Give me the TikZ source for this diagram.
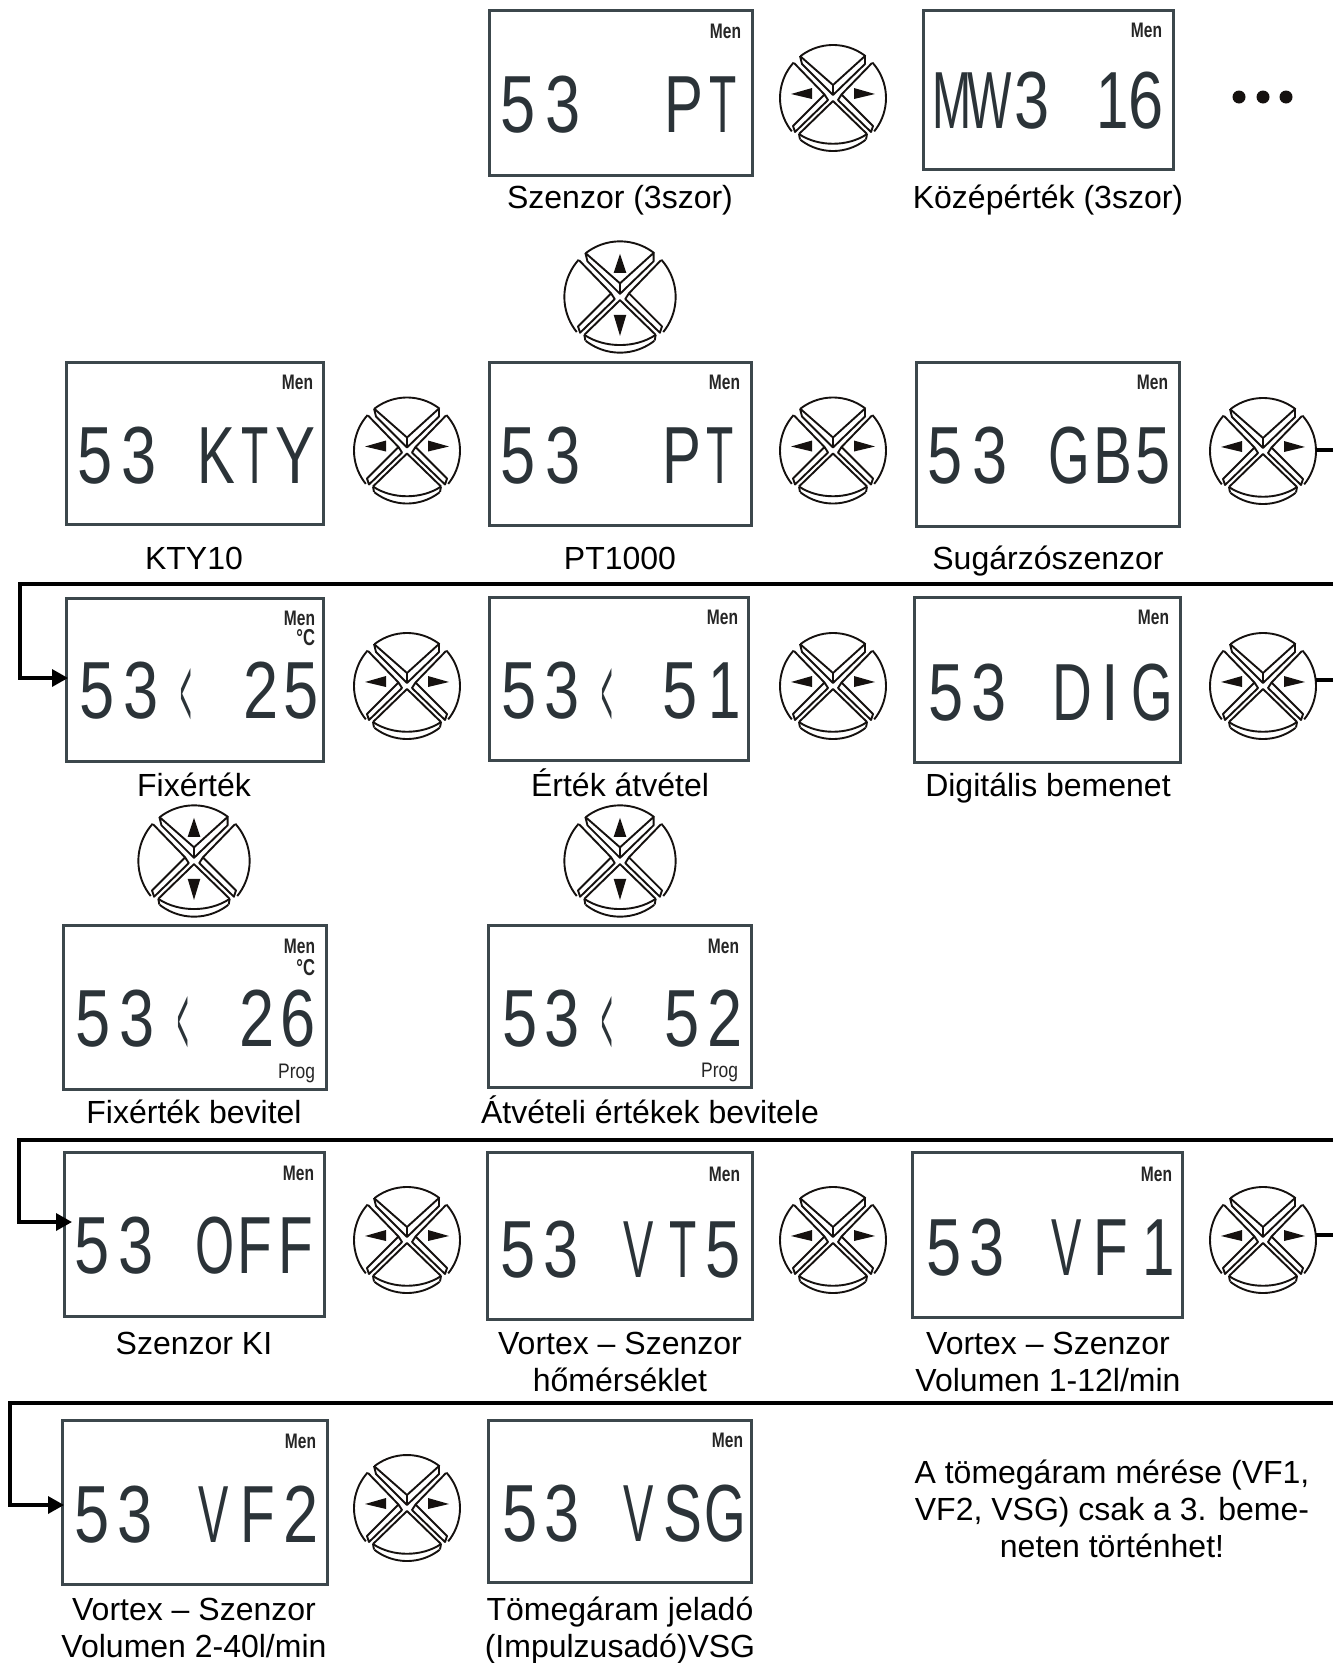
\documentclass[tikz,border=0pt]{standalone}
\usepackage{fontspec}
\usepackage{graphicx}
\setmainfont{Liberation Sans}
\usetikzlibrary{arrows.meta}
\definecolor{lcdink}{HTML}{2B3338}
\definecolor{framecol}{HTML}{3C474C}
\definecolor{btnink}{HTML}{15110F}
\tikzset{
  panel/.style={draw=framecol,line width=3pt,fill=white,rectangle,inner sep=0pt,outer sep=0pt},
  lcdt/.style={anchor=base west,inner sep=0pt,outer sep=0pt,text=lcdink},
  menlbl/.style={anchor=base east,inner sep=0pt,outer sep=0pt,text=black!85},
  caplbl/.style={anchor=base,inner sep=0pt,outer sep=0pt,text=black},
  btnnode/.style={circle,minimum size=106pt,inner sep=0pt,outer sep=0pt},
  btnline/.style={draw=btnink,line width=1.9pt,line join=round},
  btnarrow/.style={fill=btnink,draw=none},
  flow/.style={draw=black,line width=3.4pt,line join=miter},
  flowtip/.style={-{Triangle[length=16pt,width=17pt]}}
}
\newcommand\lcdfnt{\fontsize{81}{81}\selectfont}
\newcommand\lc[3][.78]{\rlap{\hspace*{\dimexpr #2pt-\lcx pt\relax}\makebox[0pt]{\scalebox{#1}[1]{\lcdfnt #3}}}}
\newcommand\lcs[1]{\rlap{\hspace*{\dimexpr #1pt-\lcx pt\relax}\makebox[0pt]{\raisebox{-9pt}{\scalebox{.24}[1.25]{\lcdfnt <}}}}}
\newcommand\lcdrow[5]{\node[lcdt,name=#1] at (#2,#3) {\def\lcx{#2}\hbox to #4pt{#5\hss}};}
\newcommand\lcdpanel[7]{%
  \pgfmathsetmacro\pw{#4-#2}\pgfmathsetmacro\ph{#5-#3}%
  \pgfmathsetmacro\pcx{(#2+#4)/2}\pgfmathsetmacro\pcy{(#3+#5)/2}%
  \node[panel,minimum width=\pw pt,minimum height=\ph pt,name=#1] at (\pcx,\pcy) {};
  \node[menlbl,name=#1m] at (#6,#7) {\scalebox{.74}[1]{\fontsize{21}{21}\selectfont\bfseries Men}};
}
\newcommand\proglbl[3]{\node[menlbl,name=#1] at (#2,#3) {\scalebox{.83}[1]{\fontsize{21}{21}\selectfont Prog}};}
\newcommand\deglbl[3]{\node[menlbl,name=#1] at (#2,#3) {\scalebox{.72}[1]{\fontsize{23}{23}\selectfont\bfseries °C}};}
\newcommand\capt[4]{\node[caplbl,name=#1] at (#2,#3) {\fontsize{32}{37}\selectfont #4};}
\newcommand\captt[5]{\node[caplbl,name=#1] at (#2,#3) {\fontsize{32}{37}\selectfont\begin{tabular}[t]{@{}c@{}}#4\\#5\end{tabular}};}
\newcommand\btnbody{%
  \draw[btnline] plot[domain=-128:-52,samples=20] ({53*cos(\x)},{53*sin(\x)});
  \draw[btnline] (-33,-42)--(0,-13)--(32,-42) (-33,-42)--(-31,-34)--(0,-3)--(32,-34)--(32,-42) (0,-13)--(0,-3);
  \draw[btnline] (-39,-35) -- (-8.5,-3.5) -- (-40,28) -- (-38,34) -- (-5,2) -- (-8.5,-3.5);
  \draw[btnline] plot[domain=141:222,samples=20] ({53*cos(\x)},{53*sin(\x)});
  \draw[btnline] (39,-35) -- (8.5,-3.5) -- (40,28) -- (38,34) -- (5,2) -- (8.5,-3.5);
  \draw[btnline] plot[domain=-42:39,samples=20] ({53*cos(\x)},{53*sin(\x)});
  \draw[btnline] (-34,36) -- (0,3) -- (34,36);
  \draw[btnline] (-34,36) .. controls (-15,49) and (15,49) .. (34,36);
  \draw[btnline] (-34,36) -- (-33,41.5);
  \draw[btnline] (34,36) -- (33,41.5);
  \draw[btnline] plot[domain=52:128,samples=20] ({53*cos(\x)},{53*sin(\x)});
}
\newcommand\btnh[3]{%
  \node[btnnode,name=#1] at (#2,#3) {};
  \begin{scope}[shift={(#2,#3)}]
    \btnbody
    \fill[btnarrow] (-42,-4) -- (-21,-10) -- (-21,1) -- cycle;
    \fill[btnarrow] (42,-4) -- (21,-10) -- (21,1) -- cycle;
  \end{scope}
}
\newcommand\btnv[3]{%
  \node[btnnode,minimum size=111pt,name=#1] at (#2,#3) {};
  \begin{scope}[shift={(#2,#3)},scale=1.05]
    \btnbody
    \fill[btnarrow] (0,-41) -- (-6,-23) -- (6,-23) -- cycle;
    \fill[btnarrow] (0,37) -- (-6,17) -- (6,17) -- cycle;
  \end{scope}
}
\begin{document}
\begin{tikzpicture}[x=1pt,y=-1pt]
\useasboundingbox (0,0) rectangle (1333,1663);

% row 1
\lcdpanel{sa}{489}{10}{752}{175}{741}{38}
\lcdrow{sat}{503}{132}{235}{\lc{518}{5}\lc{563}{3}\lc[.72]{684}{P}\lc[.55]{723}{T}}
\btnh{ba}{833}{98}
\lcdpanel{sb}{923}{10}{1173}{169}{1162}{37}
\lcdrow{sbt}{935}{128}{226}{\lc[.58]{952}{M}\lc[.58]{990}{W}\lc{1032}{3}\lc[.72]{1113}{1}\lc{1146}{6}}
\fill[btnink] (1239,97) circle[radius=6.5pt] (1263,97) circle[radius=6.5pt] (1286,97) circle[radius=6.5pt];
\capt{ca}{620}{208}{Szenzor (3szor)}
\capt{cb}{1048}{208}{Középérték (3szor)}

\btnv{bv1}{620}{297}

% row 2
\lcdpanel{k}{66}{362}{323}{524}{313}{389}
\lcdrow{kt}{80}{483}{232}{\lc{95}{5}\lc{139}{3}\lc[.7]{216}{K}\lc[.55]{255}{T}\lc[.74]{295}{Y}}
\btnh{b21}{407}{450.5}
\lcdpanel{p}{489}{362}{751}{525}{740}{389}
\lcdrow{pt}{503}{483}{235}{\lc{518}{5}\lc{563}{3}\lc[.72]{682}{P}\lc[.55]{720}{T}}
\btnh{b22}{833}{450.5}
\lcdpanel{g}{916}{362}{1179}{526}{1168}{389}
\lcdrow{gt}{930}{483}{238}{\lc{945}{5}\lc{990}{3}\lc[.66]{1069}{G}\lc[.72]{1113}{B}\lc{1153}{5}}
\btnh{b23}{1263}{451}
\capt{c21}{194}{569}{KTY10}
\capt{c22}{620}{569}{PT1000}
\capt{c23}{1048}{569}{Sugárzószenzor}

% row 3
\lcdpanel{f}{66}{598}{323}{761}{315}{625}
\deglbl{fd}{315}{645}
\lcdrow{ft}{82}{718}{234}{\lc{97}{5}\lc{141}{3}\lcs{186}\lc{261}{2}\lc{301}{5}}
\btnh{b31}{407}{686}
\lcdpanel{a}{489}{597}{748}{760}{738}{624}
\lcdrow{at}{504}{718}{241}{\lc{519}{5}\lc{562}{3}\lcs{607}\lc{680}{5}\lc[.72]{725}{1}}
\btnh{b32}{833}{686}
\lcdpanel{d}{914}{597}{1180}{762}{1169}{624}
\lcdrow{dt}{931}{720}{236}{\lc{946}{5}\lc{989}{3}\lc[.68]{1072}{D}\lc{1110}{I}\lc[.66]{1152}{G}}
\btnh{b33}{1263}{686}
\capt{c31}{194}{796}{Fixérték}
\capt{c32}{620}{796}{Érték átvétel}
\capt{c33}{1048}{796}{Digitális bemenet}

\btnv{bv2}{194}{861}
\btnv{bv3}{620}{861}

% row 4
\lcdpanel{fb}{63}{925}{326}{1089}{315}{953}
\deglbl{fbd}{315}{975}
\proglbl{fbp}{315}{1078}
\lcdrow{fbt}{78}{1046}{235}{\lc{93}{5}\lc{137}{3}\lcs{183}\lc{257}{2}\lc{298}{6}}
\lcdpanel{ab}{488}{925}{751}{1087}{739}{953}
\proglbl{abp}{738}{1077}
\lcdrow{abt}{505}{1046}{235}{\lc{520}{5}\lc{562}{3}\lcs{607}\lc{682}{5}\lc{725}{2}}
\capt{c41}{194}{1123}{Fixérték bevitel}
\capt{c42}{650}{1123}{Átvételi értékek bevitele}

% row 5
\lcdpanel{o}{64}{1152}{324}{1316}{314}{1180}
\lcdrow{ot}{77}{1273}{232}{\lc{92}{5}\lc{136}{3}\lc[.62]{215}{O}\lc[.7]{255}{F}\lc[.7]{296}{F}}
\btnh{b51}{407}{1240}
\lcdpanel{v}{487}{1152}{752}{1319}{740}{1181}
\lcdrow{vt}{503}{1277}{235}{\lc{518}{5}\lc{561}{3}\lc[.56]{639}{V}\lc[.55]{683}{T}\lc{723}{5}}
\btnh{b52}{833}{1240}
\lcdpanel{w}{912}{1152}{1182}{1317}{1172}{1181}
\lcdrow{wt}{929}{1275}{249}{\lc{944}{5}\lc{987}{3}\lc[.56]{1067}{V}\lc[.7]{1111}{F}\lc[.72]{1159}{1}}
\btnh{b53}{1263}{1240}
\capt{c51}{194}{1354}{Szenzor KI}
\captt{c52}{620}{1354}{Vortex – Szenzor}{hőmérséklet}
\captt{c53}{1048}{1354}{Vortex – Szenzor}{Volumen 1-12l/min}

% row 6
\lcdpanel{x}{62}{1420}{327}{1584}{316}{1448}
\lcdrow{xt}{77}{1542}{239}{\lc{92}{5}\lc{135}{3}\lc[.56]{214}{V}\lc[.7]{258}{F}\lc{301}{2}}
\btnh{b61}{407}{1508}
\lcdpanel{y}{488}{1420}{751}{1582}{743}{1447}
\lcdrow{yt}{505}{1541}{235}{\lc{520}{5}\lc{562}{3}\lc[.56]{639}{V}\lc[.72]{683}{S}\lc[.66]{725}{G}}
\captt{c61}{194}{1620}{Vortex – Szenzor}{Volumen 2-40l/min}
\captt{c62}{620}{1620}{Tömegáram jeladó}{(Impulzusadó)VSG}
\node[caplbl,name=note] at (1112,1483) {\fontsize{32}{37}\selectfont\begin{tabular}[t]{@{}c@{}}A tömegáram mérése (VF1,\\VF2, VSG) csak a 3. beme-\\neten történhet!\end{tabular}};

% connectors
\coordinate (e2) at (1333,450);
\coordinate (e3) at (1333,680);
\coordinate (e5) at (1333,1235);
\coordinate (r1) at (1333,584);
\coordinate (l1) at (20,584);
\coordinate (t1) at (68,678);
\coordinate (r2) at (1333,1140);
\coordinate (l2) at (19,1140);
\coordinate (t2) at (72,1222);
\coordinate (r3) at (1333,1403);
\coordinate (l3) at (10,1403);
\coordinate (t3) at (64,1505);
\draw[flow] (b23.east |- e2) -- (e2);
\draw[flow] (b33.east |- e3) -- (e3);
\draw[flow] (b53.east |- e5) -- (e5);
\draw[flow,flowtip] (r1) -- (l1) |- (t1);
\draw[flow,flowtip] (r2) -- (l2) |- (t2);
\draw[flow,flowtip] (r3) -- (l3) |- (t3);
\end{tikzpicture}
\end{document}
